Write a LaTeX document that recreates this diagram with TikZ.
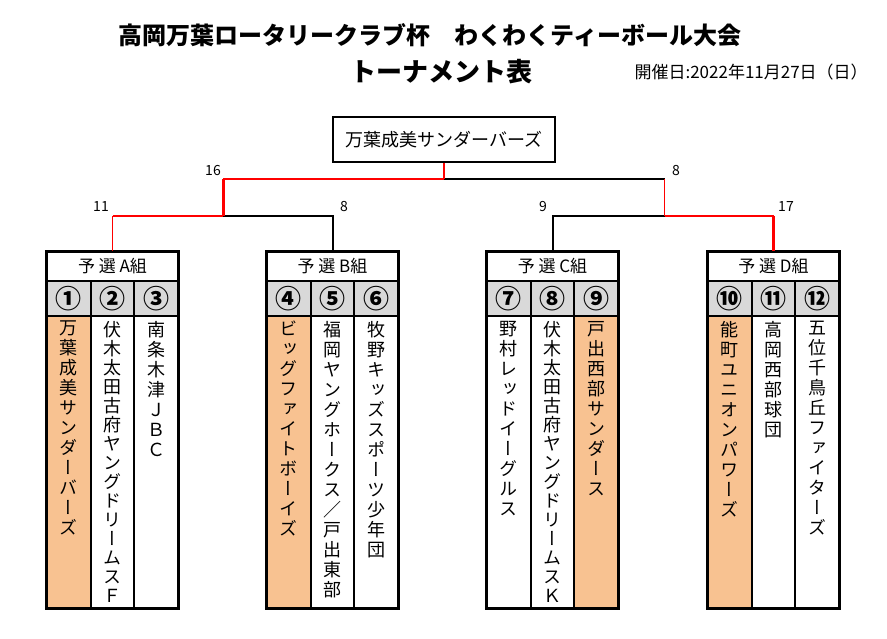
\documentclass[tikz,border=0pt]{standalone}
\usepackage{fontspec}
\setmainfont{Noto Sans CJK JP}
\newfontfamily\tatefont[RawFeature=+vert]{Noto Sans CJK JP}
\usetikzlibrary{positioning,calc}
\definecolor{wn}{HTML}{F8C291}
\definecolor{hg}{HTML}{D9D9D9}
\definecolor{rd}{HTML}{FF0000}
% vertical team names: one character per line
\newcommand\tate[2][20pt]{\vbox{\baselineskip=#1\relax\lineskiplimit=-100pt\tateA#2\relax}}
\def\tateA#1{\ifx\relax#1\else\hbox to 18pt{\hss#1\hss}\expandafter\tateA\fi}

\begin{document}
\begin{tikzpicture}[x=1pt,y=-1pt,
  box/.style={draw,line width=2pt,inner sep=0pt,minimum height=29pt,minimum width=131pt,font=\fontsize{17}{17}\selectfont},
  num/.style={draw,line width=2pt,fill=hg,inner sep=0pt,minimum height=35pt,minimum width=43.67pt,font=\bfseries\fontsize{26}{26}\selectfont},
  cell/.style={draw,line width=2pt,inner sep=0pt,minimum height=292pt,minimum width=43.67pt},
  nm/.style={anchor=north,inner sep=0pt,font=\tatefont\fontsize{18}{20}\selectfont},
  sc/.style={inner sep=1pt,font=\fontsize{14}{14}\selectfont},
  ln/.style={line width=2pt},
  rl/.style={draw=rd,line width=2pt}]
\useasboundingbox (0,0) rectangle (887,638);
\node[font=\bfseries\fontsize{24}{24}\selectfont](ttl) at (430,35){高岡万葉ロータリークラブ杯　わくわくティーボール大会};
\node[font=\bfseries\fontsize{26}{26}\selectfont](sub) at (441,72){トーナメント表};
\node[anchor=west,font=\fontsize{17}{17}\selectfont](day) at (631,72){開催日:2022年11月27日（日）};
\node[draw,line width=2.5pt,minimum width=222pt,minimum height=45pt,font=\fontsize{18}{18}\selectfont](fin) at (444,139.5){万葉成美サンダーバーズ};
% groups
\foreach \g/\x/\w/\a/\b/\c in {A/47/1/①/②/③,B/267/1/④/⑤/⑥,C/487/3/⑦/⑧/⑨,D/708/1/⑩/⑪/⑫}{
  \node[box](g\g) at ({\x+65.5},266.5){予 選 \g{}組};
  \foreach \k/\s in {1/\a,2/\b,3/\c}{
    \ifnum\k=\w \def\cf{wn}\else\def\cf{white}\fi
    \node[num](n\g\k) at ({\x+43.67*\k-21.83},298.5){\s};
    \node[cell,fill=\cf](c\g\k) at ({\x+43.67*\k-21.83},462){};
  }
  \draw[line width=2.8pt](g\g.north west) rectangle (c\g3.south east);
}
\node[nm](t1) at ($(cA1.north)+(0,6)$){\tate{万葉成美サンダーバーズ}};
\node[nm](t2) at ($(cA2.north)+(0,6)$){\tate[19pt]{伏木太田古府ヤングドリームスＦ}};
\node[nm](t3) at ($(cA3.north)+(0,6)$){\tate{南条木津ＪＢＣ}};
\node[nm](t4) at ($(cB1.north)+(0,6)$){\tate{ビッグファイトボーイズ}};
\node[nm](t5) at ($(cB2.north)+(0,6)$){\tate{福岡ヤングホークス／戸出東部}};
\node[nm](t6) at ($(cB3.north)+(0,6)$){\tate{牧野キッズスポーツ少年団}};
\node[nm](t7) at ($(cC1.north)+(0,6)$){\tate{野村レッドイーグルス}};
\node[nm](t8) at ($(cC2.north)+(0,6)$){\tate[19pt]{伏木太田古府ヤングドリームスＫ}};
\node[nm](t9) at ($(cC3.north)+(0,6)$){\tate{戸出西部サンダース}};
\node[nm](t10) at ($(cD1.north)+(0,6)$){\tate{能町ユニオンパワーズ}};
\node[nm](t11) at ($(cD2.north)+(0,6)$){\tate{高岡西部球団}};
\node[nm](t12) at ($(cD3.north)+(0,6)$){\tate{五位千鳥丘ファイターズ}};
% bracket
\coordinate(ab) at (223,216);
\coordinate(abt) at (223,179);
\coordinate(cd) at (664.5,216);
\coordinate(cdt) at (664.5,179);
\coordinate(mid) at (444,179);
\draw[ln](gB.north)|-(ab);
\draw[ln](gC.north)|-(cd);
\draw[ln](mid)--(cdt);
\draw[rl,line width=1.3pt](gA.north)--(gA.north|-ab);
\draw[rl](gA.north|-ab)--(ab);
\draw[rl,line width=3pt](ab)--(abt);
\draw[rl](abt)--(mid);
\draw[rl,line width=1.3pt](mid)--(fin.south);
\draw[rl,line width=1.8pt](cdt)--(cd);
\draw[rl](cd)--(gD.north|-cd);
\draw[rl,line width=2.8pt](gD.north|-cd)--(gD.north);
% scores
\node[sc](sAB) at (213,171){16};
\node[sc](sCD) at (676,171){8};
\node[sc](sA) at (101,207){11};
\node[sc](sB) at (344,207){8};
\node[sc](sC) at (543,207){9};
\node[sc](sD) at (786,207){17};
\end{tikzpicture}
\end{document}
